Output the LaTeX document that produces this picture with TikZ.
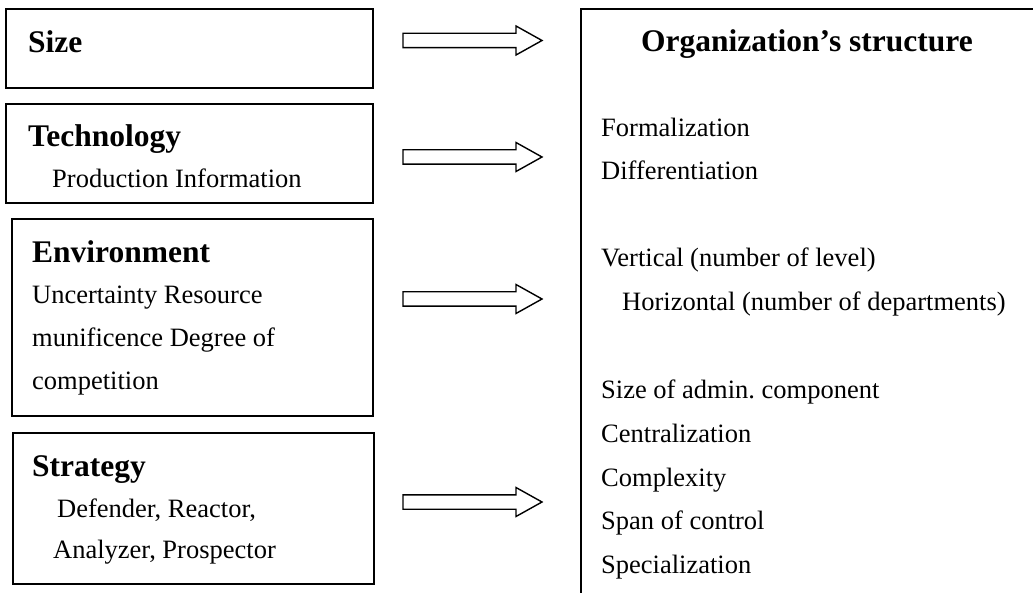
\documentclass[tikz,border=0pt]{standalone}
\usepackage{fontspec}
\setmainfont{Liberation Serif}
\usetikzlibrary{arrows.meta}

\begin{document}
\begin{tikzpicture}[x=1pt, y=-1pt,
    box/.style={draw, line width=1.8pt, rectangle, inner sep=0pt, anchor=north west},
    head/.style={inner sep=0pt, anchor=base west, font=\fontsize{31.5}{36}\selectfont\bfseries},
    item/.style={inner sep=0pt, anchor=base west, font=\fontsize{26.5}{30}\selectfont},
    blockarrow/.pic={\draw[line width=1.4pt] (0,-7.2) -- (113,-7.2) -- (113,-14.5) -- (139,0)
        -- (113,14.5) -- (113,7.2) -- (0,7.2) -- cycle;}]
                \useasboundingbox (0,0) rectangle (1033,593);
                \clip (0,0) rectangle (1033,593);

                \node[box, minimum width=367pt, minimum height=79pt] (size) at (5,8) {};
                \node[box, minimum width=367pt, minimum height=99pt] (tech) at (5,103) {};
                \node[box, minimum width=361pt, minimum height=197pt] (env) at (11,218) {};
                \node[box, minimum width=361pt, minimum height=151pt] (strat) at (12,432) {};
                \node[box, minimum width=520pt, minimum height=640pt] (org) at (580,8) {};

                \node[head] (sizeT) at (28,53) {Size};
                \node[head] (techT) at (28,147) {Technology};
                \node[item] (techA) at (52,188) {Production Information};
                \node[head] (envT) at (32,263) {Environment};
                \node[item] (envA) at (32,304) {Uncertainty Resource};
                \node[item] (envB) at (32,347) {munificence Degree of};
                \node[item] (envC) at (32,389) {competition};
                \node[head] (stratT) at (32,476) {Strategy};
                \node[item] (stratA) at (57,517) {Defender, Reactor,};
                \node[item] (stratB) at (53,558) {Analyzer, Prospector};

                \node[head, anchor=base] (orgT) at (807,52) {Organization's structure};
                \node[item] (form) at (601,137) {Formalization};
                \node[item] (diff) at (601,180) {Differentiation};
                \node[item] (vert) at (601,267) {Vertical (number of level)};
                \node[item] (hori) at (622,311) {Horizontal (number of departments)};
                \node[item] (admin) at (601,399) {Size of admin.\ component};
                \node[item] (cent) at (601,442) {Centralization};
                \node[item] (comp) at (601,486) {Complexity};
                \node[item] (span) at (601,529) {Span of control};
                \node[item] (spec) at (601,573) {Specialization};

                \pic at (403,40.5) {blockarrow};
                \pic at (403,157) {blockarrow};
                \pic at (403,299) {blockarrow};
                \pic at (403,502) {blockarrow};
            \end{tikzpicture}
\end{document}
